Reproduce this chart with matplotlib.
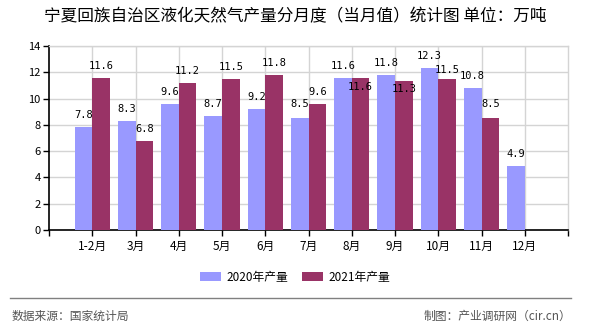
import matplotlib
matplotlib.use('Agg')
import matplotlib.pyplot as plt
import numpy as np

plt.rcParams['font.family'] = ['Noto Sans CJK SC', 'DejaVu Sans']

# 数据
months = ['1-2月', '3月', '4月', '5月', '6月', '7月', '8月', '9月', '10月', '11月', '12月']
prod_2020 = [7.8, 8.3, 9.6, 8.7, 9.2, 8.5, 11.6, 11.8, 12.3, 10.8, 4.9]
prod_2021 = [11.6, 6.8, 11.2, 11.5, 11.8, 9.6, 11.6, 11.3, 11.5, 8.5, None]
yticks = [0, 2, 4, 6, 8, 10, 12, 14]

title = '宁夏回族自治区液化天然气产量分月度（当月值）统计图 单位：万吨'
c2020 = '#9999ff'
c2021 = '#993366'
grid_c = '#d4d4d4'

# 标签偏移（像素），避免重叠
label_dy_2021 = {6: -9, 7: -8, 8: 9, 9: 14}
label_dy_2020 = {5: 14}

fig = plt.figure(figsize=(5.9, 3.3), dpi=100)
ax = fig.add_axes([49 / 590, 1 - 230 / 330, (568 - 49) / 590, (230 - 46) / 330])

x = np.arange(len(months))
w = 0.41
v21 = [np.nan if v is None else v for v in prod_2021]
ax.bar(x - w / 2, prod_2020, width=w, color=c2020, zorder=3, label='2020年产量')
ax.bar(x + w / 2, v21, width=w, color=c2021, zorder=3, label='2021年产量')

num_font = dict(family='DejaVu Sans Mono', fontsize=7.5, color='black')
for i, v in enumerate(prod_2020):
    ax.annotate(f'{v}', (x[i] - w / 2, v), xytext=(0, label_dy_2020.get(i, 12)),
                textcoords='offset pixels', ha='center', va='center', zorder=5, **num_font)
for i, v in enumerate(prod_2021):
    if v is None:
        continue
    ax.annotate(f'{v}', (x[i] + w / 2, v), xytext=(0, label_dy_2021.get(i, 12)),
                textcoords='offset pixels', ha='center', va='center', zorder=5, **num_font)

ax.set_xlim(-1, len(months))
ax.set_ylim(0, 14)
ax.set_yticks(yticks)
ax.set_yticklabels([str(t) for t in yticks], fontsize=8)
ax.set_xticks(x)
ax.set_xticklabels(months, fontsize=8.5)
ax.set_xticks([-1, len(months)], minor=True)

ax.grid(True, axis='both', color=grid_c, linewidth=1, zorder=0)
ax.tick_params(axis='both', which='both', direction='out', length=4, width=1, color='black', pad=2)
ax.tick_params(axis='x', pad=3)
for s in ['left', 'bottom']:
    ax.spines[s].set_color('black')
    ax.spines[s].set_linewidth(1.2)
for s in ['top', 'right']:
    ax.spines[s].set_color(grid_c)
    ax.spines[s].set_linewidth(1)

fig.text(0.5, 1 - 17 / 330, title, ha='center', va='center', fontsize=12)

fig.legend(loc='center', bbox_to_anchor=(295 / 590, 1 - 277 / 330), ncol=2, frameon=False,
           fontsize=8.5, handlelength=1.8, handleheight=0.8, columnspacing=1.2, handletextpad=0.4)

# 页脚
fig.add_artist(plt.Line2D([10 / 590, 571 / 590], [1 - 298 / 330, 1 - 298 / 330],
                          color='#808080', linewidth=1))
fig.text(12 / 590, 1 - 316 / 330, '数据来源：国家统计局', ha='left', va='center',
         fontsize=8.5, color='#555555')
fig.text(571 / 590, 1 - 316 / 330, '制图：产业调研网（cir.cn）', ha='right', va='center',
         fontsize=8.5, color='#555555')

fig.savefig('out.png', dpi=100)
